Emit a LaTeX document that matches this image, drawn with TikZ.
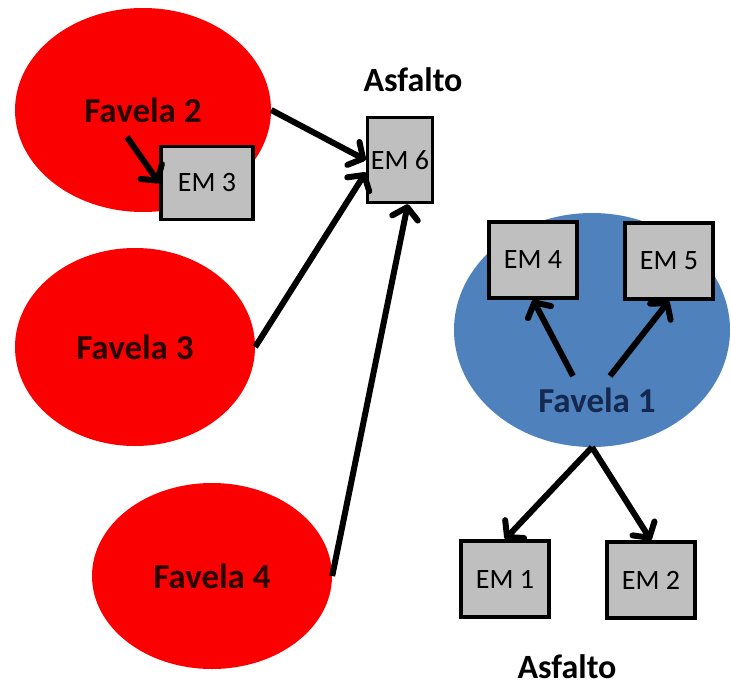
\documentclass[tikz,border=0pt]{standalone}
\usepackage{fontspec}
\setmainfont{Carlito}
\usepackage{tikz}
\usetikzlibrary{shapes.geometric, arrows.meta, positioning}
\definecolor{favred}{RGB}{250, 0, 0}
\definecolor{favblue}{RGB}{79, 129, 189}
\definecolor{boxgray}{RGB}{191, 191, 191}
\definecolor{redtext}{RGB}{40, 0, 0}
\definecolor{bluetext}{RGB}{20, 40, 80}

\begin{document}
\begin{tikzpicture}[x=1pt, y=-1pt,
    favela/.style={ellipse, fill=favred, inner sep=0pt, text=redtext,
      font=\fontsize{35}{40}\selectfont\bfseries},
    embox/.style={draw=black, line width=3.5pt, fill=boxgray, inner sep=0pt,
      minimum width=88pt, minimum height=76pt, font=\fontsize{28}{32}\selectfont},
    flow/.style={line width=6pt, -{Straight Barb[length=11pt, width=26pt, round]}},
    asfalto/.style={font=\fontsize{34}{40}\selectfont\bfseries}]
    \useasboundingbox (0,0) rectangle (731,688);
    % red favelas
    \node[favela, minimum width=256pt, minimum height=204pt] (fav2) at (143,110) {Favela 2};
    \node[favela, minimum width=240pt, minimum height=198pt] (fav3) at (135,347) {Favela 3};
    \node[favela, minimum width=240pt, minimum height=186pt] (fav4) at (212,576) {Favela 4};
    % blue favela
    \node[ellipse, fill=favblue, minimum width=276pt, minimum height=234pt] (fav1) at (592,330) {};
    \node[text=bluetext, font=\fontsize{35}{40}\selectfont\bfseries] (lab1) at (597,400) {Favela 1};
    % boxes
    \node[embox, minimum width=92pt, minimum height=73pt] (em3) at (207,183) {EM 3};
    \node[embox, minimum width=65pt, minimum height=85pt] (em6) at (400,160) {EM 6};
    \node[embox] (em4) at (533,260) {EM 4};
    \node[embox] (em5) at (669,261) {EM 5};
    \node[embox] (em1) at (505,579) {EM 1};
    \node[embox] (em2) at (651,580) {EM 2};
    % labels
    \node[asfalto] (asf1) at (413,80) {Asfalto};
    \node[asfalto] (asf2) at (567,667) {Asfalto};
    % arrows
    \draw[flow] ([xshift=-16pt,yshift=-27pt]fav2.center) -- (em3.west);
    \draw[flow] (fav2.east) -- (em6.west);
    \draw[flow] (fav3.east) -- (em6.200);
    \draw[flow] (fav4.east) -- (em6.-80);
    \draw[flow] ([xshift=-24pt,yshift=24pt]lab1.center) -- (em4.south);
    \draw[flow] ([xshift=13pt,yshift=24pt]lab1.center) -- (em5.south);
    \draw[flow] (fav1.south) -- (em1.north);
    \draw[flow] (fav1.south) -- (em2.north);
\end{tikzpicture}
\end{document}
